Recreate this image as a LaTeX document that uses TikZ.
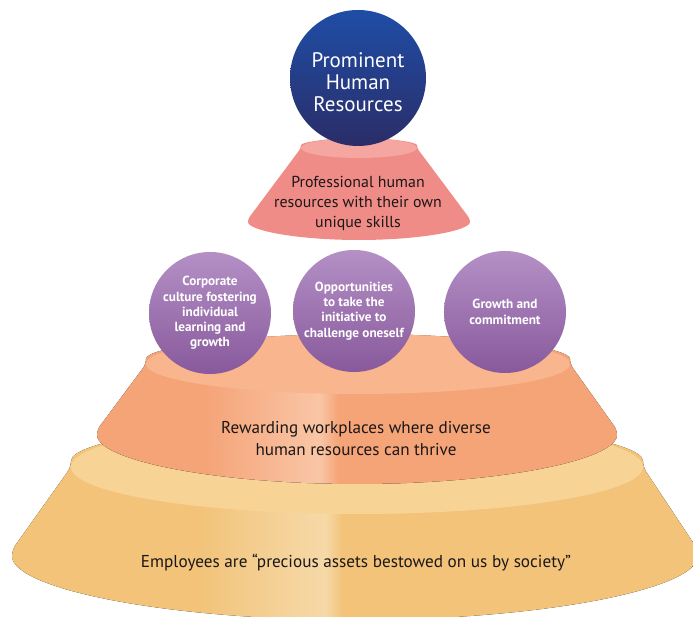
\documentclass[tikz,border=0pt]{standalone}
\usepackage{fontspec}
\setmainfont{PT Sans}
\usepackage{xcolor}
\usetikzlibrary{positioning}

\definecolor{tierY}{HTML}{F2C379}
\definecolor{tierYtop}{HTML}{F7D496}
\definecolor{tierYlight}{HTML}{F6D9A8}
\definecolor{tierO}{HTML}{F5A478}
\definecolor{tierOtop}{HTML}{F8B58E}
\definecolor{tierOlight}{HTML}{F9C6A6}
\definecolor{tierP}{HTML}{F08C87}
\definecolor{tierPtop}{HTML}{F5A6A1}
\definecolor{navyTop}{HTML}{1F4DA6}
\definecolor{navyBot}{HTML}{2B2D68}
\definecolor{plumTop}{HTML}{B490C5}
\definecolor{plumBot}{HTML}{88599C}
\definecolor{inkText}{HTML}{1A1718}

% light vertical band on the two lower tiers
\pgfdeclarehorizontalshading{yellowband}{100bp}{color(0bp)=(tierY); color(38.5bp)=(tierY);
  color(47.8bp)=(tierYlight); color(49.1bp)=(tierY); color(100bp)=(tierY)}
\pgfdeclarehorizontalshading{orangeband}{100bp}{color(0bp)=(tierO); color(35.5bp)=(tierO);
  color(46.4bp)=(tierOlight); color(48.2bp)=(tierO); color(100bp)=(tierO)}

\begin{document}
\begin{tikzpicture}[
  x=1pt,y=1pt,
  darktext/.style={text=inkText,align=center},
  plumball/.style={circle,minimum size=122pt,inner sep=0pt,top color=plumTop,bottom color=plumBot,
    text=white,align=center,font=\fontsize{13.2}{15.3}\selectfont\bfseries},
  navyball/.style={circle,minimum size=136pt,inner sep=0pt,top color=navyTop,bottom color=navyBot}
]
\useasboundingbox (0,0) rectangle (693,617);

% bottom tier
\fill[shading=yellowband,rounded corners=6pt] (71,150) arc[start angle=180,end angle=0,x radius=286,y radius=47]
  -- (698,67) arc[start angle=0,end angle=-180,x radius=343,y radius=70] -- cycle;
\fill[tierYtop] (357,150) ellipse[x radius=286,y radius=47];
\node[darktext,font=\fontsize{17.2}{18}\selectfont] (assets) at (356,54)
  {Employees are “precious assets bestowed on us by society”};

% middle tier
\fill[shading=orangeband,rounded corners=5pt] (146,253) arc[start angle=180,end angle=0,x radius=212,y radius=30]
  -- (617,187) arc[start angle=0,end angle=-180,x radius=260,y radius=54] -- cycle;
\fill[tierOtop] (358,253) ellipse[x radius=212,y radius=30];
\node[darktext,font=\fontsize{17.1}{22}\selectfont] (workplaces) at (356,178)
  {Rewarding workplaces where diverse\\human resources can thrive};

% three balls on the middle tier
\node[plumball] (culture) at (210,304) {Corporate\\culture fostering\\individual\\learning and\\growth};
\node[plumball] (initiative) at (354,306) {Opportunities\\to take the\\initiative to\\challenge oneself};
\node[plumball] (growth) at (505,305) {Growth and\\commitment};

% upper tier
\fill[tierP,rounded corners=3pt] (301,469) arc[start angle=180,end angle=0,x radius=58,y radius=10]
  -- (470,398) arc[start angle=0,end angle=-180,x radius=111,y radius=21] -- cycle;
\fill[tierPtop] (359,469) ellipse[x radius=58,y radius=10];
\node[darktext,font=\fontsize{15.9}{20}\selectfont] (skills) at (358,414)
  {Professional human\\resources with their own\\unique skills};

% top ball
\node[navyball] (prominent) at (358,539) {};
\node[text=white,align=center,font=\fontsize{21}{21.8}\selectfont] (prominenttext) at (358,535)
  {Prominent\\Human\\Resources};
\end{tikzpicture}
\end{document}
